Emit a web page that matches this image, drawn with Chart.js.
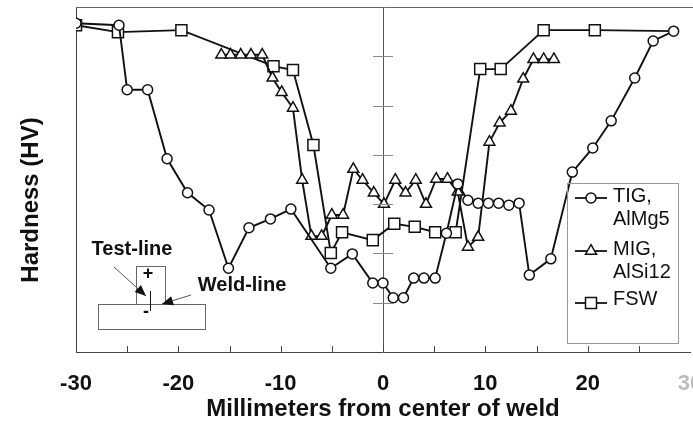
<!DOCTYPE html>
<html>
<head>
<meta charset="utf-8">
<script src="https://cdn.jsdelivr.net/npm/chart.js@4.4.1/dist/chart.umd.min.js"></script>
<style>
  html, body { margin: 0; padding: 0; background: #fff; }
  #wrap { width: 693px; height: 425px; }
</style>
</head>
<body>
<div id="wrap"><canvas id="hv-chart" width="693" height="425"></canvas></div>
<script>
// hardness profiles across the weld (mm from center, HV)
const tigX = [-30, -25.8, -25, -23, -21.1, -19.1, -17, -15.1, -13.1, -11, -9, -5.1, -3, -1, 0, 1, 2, 3, 4, 5.1, 6.2, 7.3, 8.3, 9.3, 10.3, 11.3, 12.3, 13.3, 14.3, 16.4, 18.5, 20.5, 22.3, 24.6, 26.4, 28.4];
const tigY = [96.7, 96.3, 83.2, 83.2, 69.2, 62.3, 58.8, 47.0, 55.2, 57.0, 59.0, 47.0, 49.9, 44.0, 44.0, 41.0, 41.0, 45.0, 45.0, 45.0, 54.1, 64.1, 60.8, 60.2, 60.2, 60.2, 59.8, 60.2, 45.6, 48.9, 66.5, 71.4, 76.9, 85.6, 93.1, 95.1];

const migX = [-15.8, -14.9, -13.9, -12.9, -11.8, -10.8, -9.9, -8.8, -7.9, -7.0, -6.0, -5.0, -3.9, -2.9, -2.0, -0.9, 0.1, 1.2, 2.2, 3.2, 4.2, 5.2, 6.3, 7.3, 8.3, 9.3, 10.4, 11.4, 12.5, 13.7, 14.7, 15.7, 16.7];
const migY = [90.3, 90.3, 90.3, 90.3, 90.3, 85.6, 82.7, 79.5, 64.9, 53.5, 53.5, 57.8, 57.8, 67.1, 64.9, 62.3, 60.0, 64.9, 62.3, 64.9, 60.0, 65.1, 65.1, 62.5, 51.3, 53.3, 72.6, 76.5, 78.9, 85.4, 89.4, 89.4, 89.4];

const fswX = [-30, -25.9, -19.7, -10.7, -8.8, -6.8, -5.1, -4.0, -1.0, 1.1, 3.1, 5.1, 7.1, 9.5, 11.5, 15.7, 20.7, 28.4];
const fswY = [96.3, 94.9, 95.3, 88.0, 87.2, 72.0, 50.1, 54.3, 52.7, 56.0, 55.4, 54.3, 54.3, 87.4, 87.4, 95.3, 95.3, 95.1];

const seriesNames = [['TIG,', 'AlMg5'], ['MIG,', 'AlSi12'], ['FSW']];
const xTicks = [-30, -20, -10, 0, 10, 20, 30];
const yTicks = [40, 50, 60, 70, 80, 90];

const FONT = "'Liberation Sans', Arial, sans-serif";

function pairs(xs, ys) {
  return xs.map(function (x, i) { return { x: x, y: ys[i] }; });
}

function marker(ctx, style, x, y) {
  ctx.beginPath();
  if (style === 'circle') {
    ctx.arc(x, y, 5, 0, Math.PI * 2);
  } else if (style === 'triangle') {
    ctx.moveTo(x, y - 6.3);
    ctx.lineTo(x + 5.5, y + 3.2);
    ctx.lineTo(x - 5.5, y + 3.2);
    ctx.closePath();
  } else {
    ctx.rect(x - 5.5, y - 5.5, 11, 11);
  }
  ctx.fillStyle = '#fff';
  ctx.fill();
  ctx.stroke();
}

function arrow(ctx, x1, y1, x2, y2) {
  ctx.strokeStyle = '#555';
  ctx.lineWidth = 1;
  ctx.beginPath();
  ctx.moveTo(x1, y1);
  ctx.lineTo(x2, y2);
  ctx.stroke();
  var a = Math.atan2(y2 - y1, x2 - x1);
  ctx.fillStyle = '#111';
  ctx.beginPath();
  ctx.moveTo(x2, y2);
  ctx.lineTo(x2 - 12 * Math.cos(a - 0.4), y2 - 12 * Math.sin(a - 0.4));
  ctx.lineTo(x2 - 12 * Math.cos(a + 0.4), y2 - 12 * Math.sin(a + 0.4));
  ctx.closePath();
  ctx.fill();
}

// frame, tick marks, legend box, y title and the weld sketch
const extras = {
  id: 'extras',
  afterDraw: function (chart) {
    var ctx = chart.ctx;
    var area = chart.chartArea;
    var xs = chart.scales.x;
    var ys = chart.scales.y;
    ctx.save();

    // top frame line
    ctx.strokeStyle = '#666';
    ctx.lineWidth = 1;
    ctx.beginPath();
    ctx.moveTo(area.left, area.top + 0.5);
    ctx.lineTo(693, area.top + 0.5);
    ctx.stroke();

    // small ticks pointing up from the x axis
    ctx.strokeStyle = '#444';
    for (var v = -25; v <= 25; v += 5) {
      var px = Math.round(xs.getPixelForValue(v)) + 0.5;
      ctx.beginPath();
      ctx.moveTo(px, area.bottom);
      ctx.lineTo(px, area.bottom - 6);
      ctx.stroke();
    }
    // hardness ticks across the center line
    var cx = xs.getPixelForValue(0);
    ctx.strokeStyle = '#888';
    yTicks.forEach(function (t) {
      var py = Math.round(ys.getPixelForValue(t)) + 0.5;
      ctx.beginPath();
      ctx.moveTo(cx - 10, py);
      ctx.lineTo(cx + 10, py);
      ctx.stroke();
    });

    // y title
    ctx.save();
    ctx.translate(31, 200);
    ctx.rotate(-Math.PI / 2);
    ctx.font = 'bold 24px ' + FONT;
    ctx.fillStyle = '#111';
    ctx.textAlign = 'center';
    ctx.textBaseline = 'middle';
    ctx.fillText('Hardness (HV)', 0, 0);
    ctx.restore();

    // legend
    ctx.strokeStyle = '#999';
    ctx.lineWidth = 1;
    ctx.strokeRect(567.5, 183.5, 111, 160);
    var rows = [[198, 196, 219], [251, 249, 272], [303, 299]];
    ctx.font = '20px ' + FONT;
    ctx.textBaseline = 'middle';
    ctx.textAlign = 'left';
    chart.data.datasets.forEach(function (ds, i) {
      var r = rows[i];
      ctx.strokeStyle = '#111';
      ctx.lineWidth = 1.8;
      ctx.beginPath();
      ctx.moveTo(575, r[0]);
      ctx.lineTo(607, r[0]);
      ctx.stroke();
      ctx.lineWidth = 1.5;
      marker(ctx, ds.pointStyle, 591, r[0]);
      ctx.fillStyle = '#111';
      ds.label.forEach(function (txt, k) {
        ctx.fillText(txt, 613, r[k + 1]);
      });
    });

    // weld sketch
    ctx.strokeStyle = '#666';
    ctx.lineWidth = 1;
    ctx.strokeRect(98.5, 304.5, 107, 25);
    ctx.strokeRect(136.5, 266.5, 29, 38);
    ctx.strokeStyle = '#111';
    ctx.beginPath();
    ctx.moveTo(150.5, 291);
    ctx.lineTo(150.5, 311);
    ctx.stroke();
    ctx.fillStyle = '#111';
    ctx.textAlign = 'center';
    ctx.font = 'bold 18px ' + FONT;
    ctx.fillText('+', 148, 274);
    ctx.fillText('-', 146, 312);
    ctx.font = 'bold 20px ' + FONT;
    ctx.fillText('Test-line', 132, 249);
    ctx.fillText('Weld-line', 242, 285);
    arrow(ctx, 114, 267, 146, 296);
    arrow(ctx, 191, 295, 162, 304);

    ctx.restore();
  }
};

const lineStyle = {
  showLine: true,
  borderColor: '#111',
  borderWidth: 1.9,
  pointBackgroundColor: '#fff',
  pointBorderColor: '#111',
  pointBorderWidth: 1.5,
  tension: 0
};

new Chart(document.getElementById('hv-chart'), {
  type: 'scatter',
  data: {
    datasets: [
      Object.assign({ label: seriesNames[0], data: pairs(tigX, tigY), pointStyle: 'circle', pointRadius: 5 }, lineStyle),
      Object.assign({ label: seriesNames[1], data: pairs(migX, migY), pointStyle: 'triangle', pointRadius: 6.3 }, lineStyle),
      Object.assign({
        label: seriesNames[2], data: pairs(fswX, fswY), pointStyle: 'rect',
        pointRadius: function (c) { return c.dataIndex === fswX.length - 1 ? 0 : 7.8; }
      }, lineStyle)
    ]
  },
  options: {
    responsive: false,
    devicePixelRatio: 1,
    animation: false,
    layout: { autoPadding: false, padding: { top: 7, right: 3, bottom: 0, left: 0 } },
    plugins: {
      legend: { display: false },
      tooltip: { enabled: false }
    },
    scales: {
      x: {
        type: 'linear',
        min: -30,
        max: 30,
        afterFit: function (s) { s.height = 73; s.paddingLeft = 0; s.paddingRight = 0; },
        afterBuildTicks: function (s) { s.ticks = xTicks.map(function (v) { return { value: v }; }); },
        ticks: {
          padding: 19,
          maxRotation: 0,
          autoSkip: false,
          font: { family: FONT, size: 22, weight: 'bold' },
          color: function (c) { return c.tick && c.tick.value === 30 ? '#bbb' : '#111'; }
        },
        grid: {
          drawTicks: false,
          lineWidth: 1,
          color: function (c) { return c.tick && c.tick.value === 0 ? '#555' : 'rgba(0,0,0,0)'; }
        },
        border: { display: true, color: '#444', width: 1 },
        title: {
          display: true,
          text: 'Millimeters from center of weld',
          color: '#111',
          font: { family: FONT, size: 24, weight: 'bold' },
          padding: { top: 0, bottom: 1 }
        }
      },
      y: {
        type: 'linear',
        min: 30,
        max: 100,
        afterFit: function (s) { s.width = 76; },
        ticks: { display: false, stepSize: 10 },
        grid: { display: false },
        border: { display: true, color: '#444', width: 1 }
      }
    }
  },
  plugins: [extras]
});
</script>
</body>
</html>
